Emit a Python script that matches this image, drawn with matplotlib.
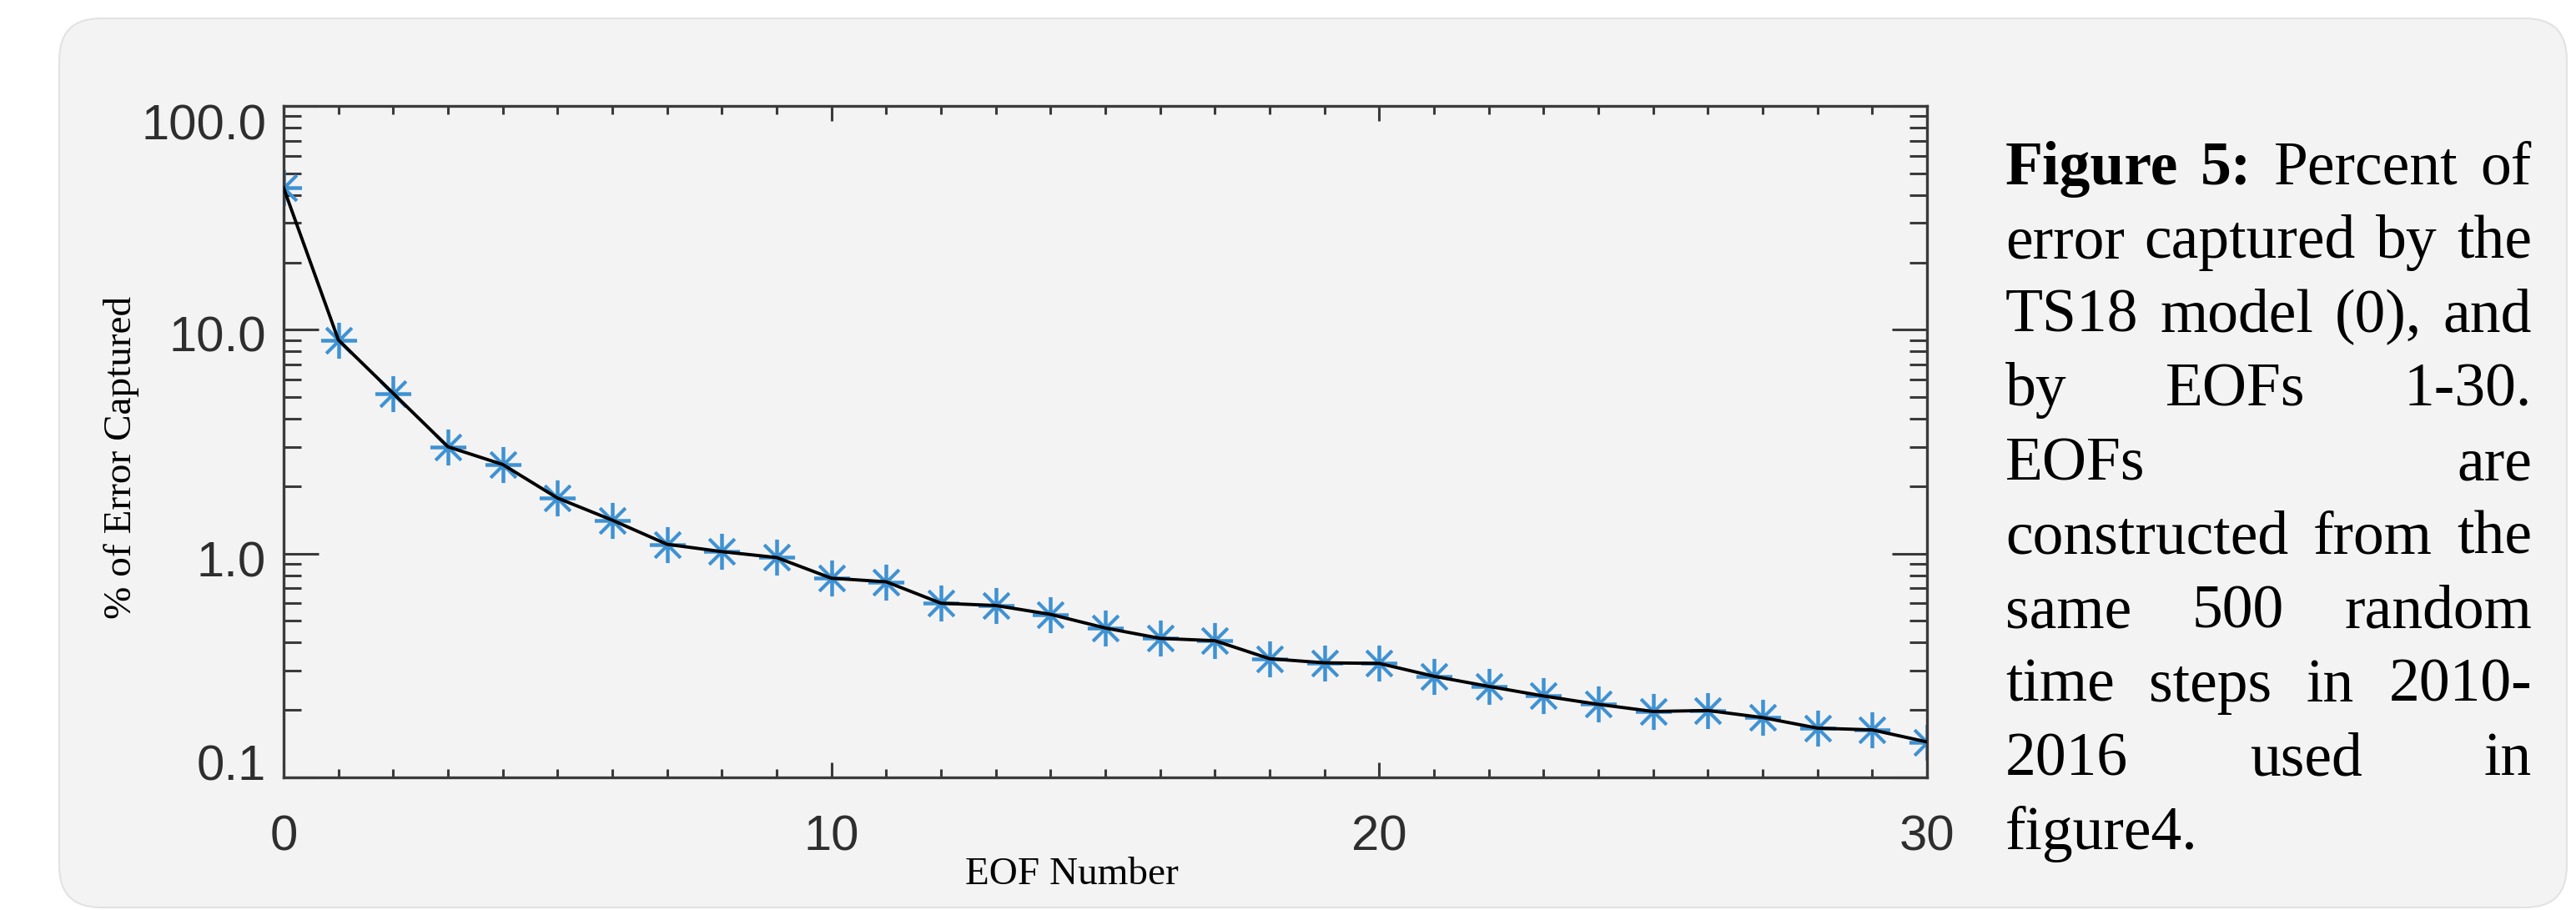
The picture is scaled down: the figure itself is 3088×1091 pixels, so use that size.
import matplotlib
matplotlib.use('Agg')
import matplotlib.pyplot as plt
import numpy as np
from matplotlib.patches import FancyBboxPatch
from matplotlib.transforms import IdentityTransform, ScaledTranslation
from matplotlib.ticker import MultipleLocator, LogLocator, NullFormatter

# ---------------- data ----------------
eof_number = list(range(31))
error_captured = [43.0, 9.0, 5.2, 3.0, 2.5, 1.77, 1.41, 1.10, 1.02, 0.96,
                  0.776, 0.748, 0.600, 0.586, 0.535, 0.465, 0.418, 0.408, 0.339, 0.325,
                  0.323, 0.283, 0.255, 0.231, 0.212, 0.197, 0.199, 0.185, 0.166, 0.163,
                  0.144]
x_ticks = [0, 10, 20, 30]
x_tick_labels = ['0', '10', '20', '30']
y_ticks = [0.1, 1.0, 10.0, 100.0]
y_tick_labels = ['0.1', '1.0', '10.0', '100.0']
x_label = 'EOF Number'
y_label = '% of Error Captured'
caption_bold = 'Figure 5:'
caption_lines = ['Figure 5: Percent of',
                 'error captured by the',
                 'TS18 model (0), and',
                 'by EOFs 1-30.',
                 'EOFs are',
                 'constructed from the',
                 'same 500 random',
                 'time steps in 2010-',
                 '2016 used in',
                 'figure4.']

# ---------------- figure ----------------
W, H = 3088, 1091
plt.rcParams['font.family'] = ['Liberation Sans', 'DejaVu Sans']
fig = plt.figure(figsize=(W / 100, H / 100), dpi=100)
fig.patch.set_facecolor('white')

panel = FancyBboxPatch((71, 3), 3006, 1066, boxstyle='round,pad=0,rounding_size=50',
                       transform=IdentityTransform(), facecolor='#f3f3f3',
                       edgecolor='#e2e2e2', linewidth=1.5, zorder=0)
fig.add_artist(panel)

ax = fig.add_axes([340 / W, 1 - 932 / H, 1970 / W, 805 / H])
ax.set_facecolor('none')

ax.plot(eof_number, error_captured, linestyle='none', marker=(8, 2, 0), markersize=31,
        markeredgewidth=2.7, markeredgecolor='#3f92d3', zorder=2)
ax.plot(eof_number, error_captured, color='black', linewidth=2.8, zorder=3)

ax.set_yscale('log')
ax.set_xlim(0, 30)
ax.set_ylim(0.1, 100)
ax.set_xticks(x_ticks, x_tick_labels)
ax.xaxis.set_minor_locator(MultipleLocator(1))
ax.set_yticks(y_ticks, y_tick_labels)
ax.yaxis.set_minor_locator(LogLocator(base=10, subs=np.arange(2, 10)))
ax.yaxis.set_minor_formatter(NullFormatter())

ax.tick_params(axis='both', which='both', direction='in', top=True, right=True,
               width=2.2, color='#3a3a3a', labelcolor='#2e2e2e', labelsize=43)
ax.tick_params(axis='x', which='major', length=13, pad=32)
ax.tick_params(axis='x', which='minor', length=7.2)
ax.tick_params(axis='y', which='major', length=30, pad=15)
ax.tick_params(axis='y', which='minor', length=15)
for s in ax.spines.values():
    s.set_color('#3a3a3a')
    s.set_linewidth(2.4)

ax.set_xlabel(x_label, fontfamily='Liberation Serif', fontsize=34, color='black')
ax.xaxis.set_label_coords(0.4797, -0.1453)
ax.xaxis.label.set_verticalalignment('center')
ax.set_ylabel(y_label, fontfamily='Liberation Serif', fontsize=34, color='black')
ax.yaxis.set_label_coords(-0.0985, 0.476)
ax.yaxis.label.set_verticalalignment('center')

# ---------------- caption (justified) ----------------
x_left, x_right = 2404, 3035
baselines = [220.6 + 88.6 * i for i in range(len(caption_lines))]
n_bold = len(caption_bold.split(' '))
line_items = []
for i, line in enumerate(caption_lines):
    items = []
    for j, w in enumerate(line.split(' ')):
        bold = (i == 0 and j < n_bold)
        t = fig.text(x_left / W, 1 - baselines[i] / H, w, fontfamily='Liberation Serif',
                     fontsize=53, fontweight='bold' if bold else 'normal',
                     ha='left', va='baseline', color='black')
        items.append(t)
    line_items.append(items)

fig.canvas.draw()
r = fig.canvas.get_renderer()
for i, items in enumerate(line_items):
    widths = [t.get_window_extent(r).width for t in items]
    if i == len(line_items) - 1 or len(items) == 1:
        gap = 0.25 * 53 * 100 / 72
    else:
        gap = (x_right - x_left - sum(widths)) / (len(items) - 1)
    x = x_left
    for t, wdt in zip(items, widths):
        t.set_x(x / W)
        x += wdt + gap

# IDL-like inward shift of the end labels on the log axis (pixels, + = down)
y_label_shift = [-18, 6, 5, 19]
for lab, dy in zip(ax.yaxis.get_majorticklabels(), y_label_shift):
    lab.set_transform(lab.get_transform() + ScaledTranslation(0, -dy / 100, fig.dpi_scale_trans))

fig.savefig('out.png', dpi=100, facecolor='white')
